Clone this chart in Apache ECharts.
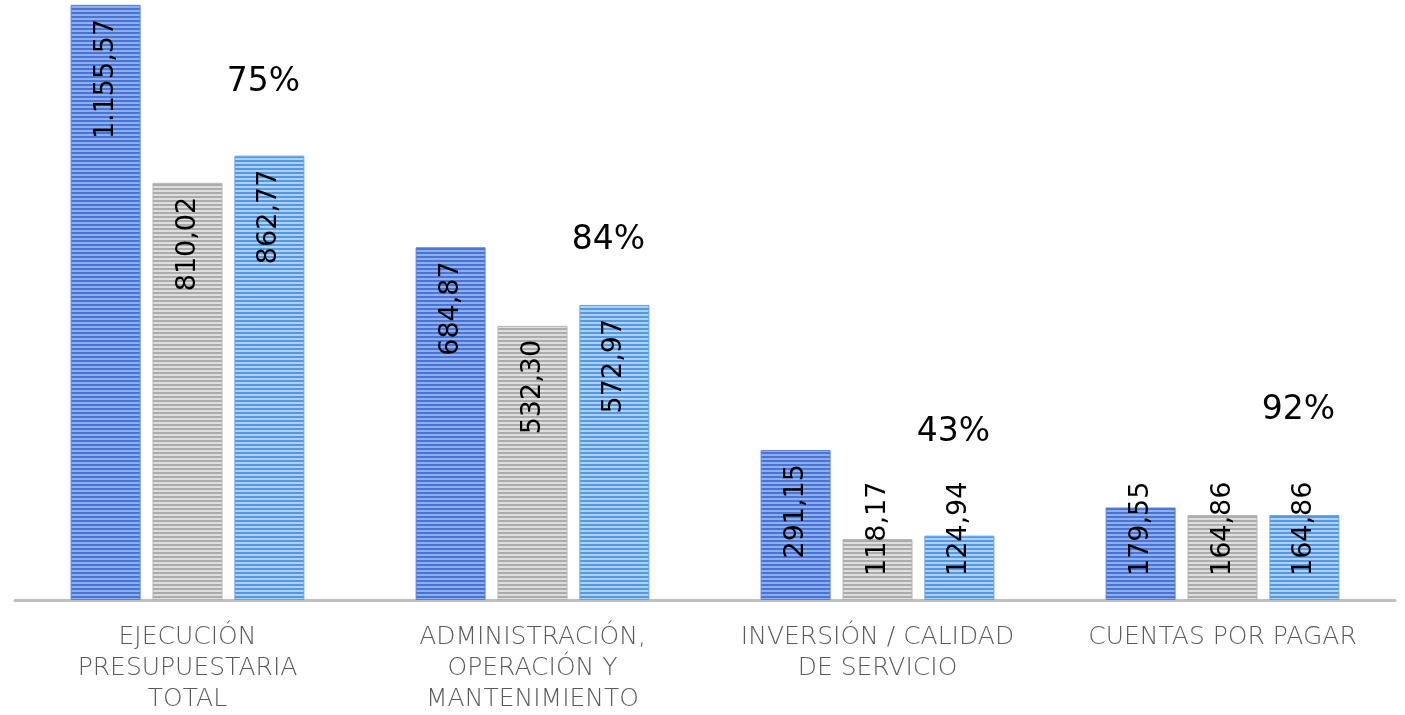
<!DOCTYPE html>
<html>
<head>
<meta charset="utf-8">
<script src="https://cdn.jsdelivr.net/npm/echarts@6/dist/echarts.min.js"></script>
<style>
  html, body { margin: 0; padding: 0; background: #fff; }
  #chart { width: 1405px; height: 715px; }
</style>
</head>
<body>
<div id="chart"></div>
<script>
const categories = ['EJECUCIÓN\nPRESUPUESTARIA\nTOTAL', 'ADMINISTRACIÓN,\nOPERACIÓN Y\nMANTENIMIENTO', 'INVERSIÓN / CALIDAD\nDE SERVICIO', 'CUENTAS POR PAGAR']
const serieA = [1155.57, 684.87, 291.15, 179.55]
const serieB = [810.02, 532.30, 118.17, 164.86]
const serieC = [862.77, 572.97, 124.94, 164.86]
const percents = ['75%', '84%', '43%', '92%']
// altura (en unidades del eje) donde aparece cada porcentaje
const percentLevel = [1004, 699, 326, 369]

// textura de rayas horizontales
function stripes (dark, light) {
  let c = document.createElement('canvas')
  c.width = 4
  c.height = 4
  let ctx = c.getContext('2d')
  ctx.fillStyle = light
  ctx.fillRect(0, 0, 4, 4)
  ctx.fillStyle = dark
  ctx.fillRect(0, 0, 4, 2)
  return { image: c, repeat: 'repeat' }
}

const fmt = v => {
  let s = v.toFixed(2).replace('.', ',')
  let parts = s.split(',')
  parts[0] = parts[0].replace(/\B(?=(\d{3})+(?!\d))/g, '.')
  return parts.join(',')
}

function barData (arr) {
  return arr.map(v => {
    let small = v < 200
    return {
      value: v,
      label: small
        ? { position: 'insideBottom', align: 'left', distance: 24 }
        : { position: 'insideTop', align: 'right', distance: 14 }
    }
  })
}

const labelBase = {
  show: true,
  rotate: 90,
  verticalAlign: 'middle',
  color: '#000',
  fontFamily: 'DejaVu Sans',
  fontSize: 27,
  formatter: p => fmt(p.value)
}

function barSeries (name, arr, dark, light, edge) {
  return {
    name: name,
    type: 'bar',
    barWidth: 70,
    barGap: '17%',
    data: barData(arr),
    itemStyle: {
      color: stripes(dark, light),
      borderColor: edge,
      borderWidth: 1
    },
    label: labelBase
  }
}

let myChart = echarts.init(document.getElementById('chart'))
let option = {
  animation: false,
  grid: { left: 15, right: 10, top: 0, bottom: 115, containLabel: false },
  xAxis: {
    type: 'category',
    data: categories,
    axisLine: { lineStyle: { color: '#bfbfbf', width: 3 } },
    axisTick: { show: false },
    axisLabel: {
      interval: 0,
      margin: 22,
      color: '#595959',
      fontFamily: '"DejaVu Sans ExtraLight", "DejaVu Sans"',
      fontWeight: 200,
      fontSize: 25,
      lineHeight: 31
    }
  },
  yAxis: {
    type: 'value',
    min: 0,
    max: 1165,
    show: false,
    splitLine: { show: false }
  },
  series: [
    barSeries('A', serieA, '#4a74d4', '#8eaeec', '#5b82d8'),
    barSeries('B', serieB, '#ababab', '#dedede', '#b4b4b4'),
    barSeries('C', serieC, '#5598de', '#add0f3', '#66a3e2'),
    {
      type: 'scatter',
      symbolSize: 0,
      itemStyle: { opacity: 1 },
      data: percentLevel,
      label: {
        show: true,
        position: 'inside',
        offset: [76, 0],
        color: '#000',
        fontFamily: 'DejaVu Sans',
        fontWeight: 500,
        fontSize: 33,
        formatter: p => percents[p.dataIndex]
      }
    }
  ]
}
myChart.setOption(option)
window.addEventListener('resize', function () {
  myChart.resize()
})
</script>
</body>
</html>
